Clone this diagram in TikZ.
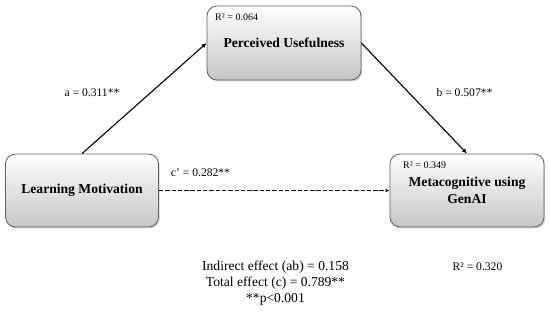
\documentclass[tikz,border=0pt]{standalone}
\usepackage{fontspec}
\setmainfont{Liberation Serif}
\usetikzlibrary{shadows,arrows.meta}
\begin{document}
\begin{tikzpicture}[x=1pt,y=-1pt,
  box/.style={draw=gray!75!black, line width=0.8pt, rounded corners=10pt,
    top color=white, bottom color=gray!45,
    drop shadow={shadow xshift=1.2pt, shadow yshift=-1.5pt, opacity=0.35},
    align=center, font=\fontsize{13.6}{17}\selectfont\bfseries, inner sep=0pt},
  lbl/.style={font=\fontsize{11.6}{13}\selectfont, inner sep=0pt},
  rsq/.style={font=\fontsize{10}{12}\selectfont, inner sep=0pt, anchor=west},
  link/.style={line width=1.1pt, -{Latex[length=5pt,width=4.5pt]}},
]
\useasboundingbox (0,0) rectangle (550,313);
\node[box, minimum width=154pt, minimum height=74pt] (pu) at (284,43) {Perceived Usefulness};
\node[box, minimum width=153pt, minimum height=73pt] (lm) at (82,190.5) {Learning Motivation};
\node[box, minimum width=154pt, minimum height=73pt] (mc) at (467,190.5) {Metacognitive using\\GenAI};
\node[rsq] (r1) at (215,17) {R² = 0.064};
\node[rsq] (r2) at (403,165) {R² = 0.349};
\draw[link] (lm.north) -- (pu.west);
\draw[link] (pu.east) -- (mc.north);
\draw[link, line width=1.8pt, dash pattern=on 4.4pt off 1.9pt, -{Latex[length=4pt,width=3.5pt]}] (lm.east) -- (mc.west);
\node[lbl] (la) at (92,93) {a = 0.311**};
\node[lbl] (lb) at (464.5,93) {b = 0.507**};
\node[lbl] (lc) at (200.5,173) {c’ = 0.282**};
\node[lbl] (r3) at (477.5,267) {R² = 0.320};
\node[align=center, inner sep=0pt, font=\fontsize{13.6}{15.8}\selectfont] (eff) at (275.5,283) {Indirect effect (ab) = 0.158\\Total effect (c) = 0.789**\\**p<0.001};
\end{tikzpicture}
\end{document}
